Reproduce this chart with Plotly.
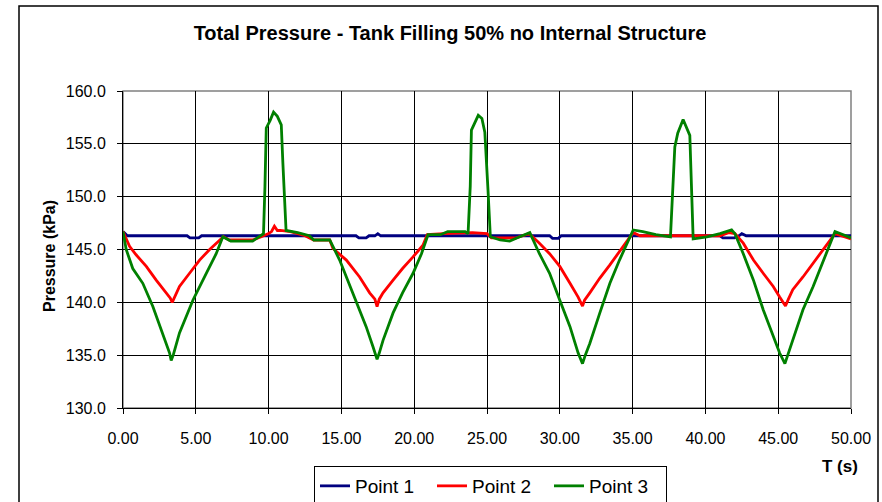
import plotly.graph_objects as go

# ---- data ----
series_names = ["Point 1", "Point 2", "Point 3"]
series_colors = ["#000080", "#FF0000", "#008000"]

point1 = [(0, 146.7), (0.3, 146.3), (4.4, 146.3), (4.6, 146.1), (5.2, 146.1), (5.4, 146.3),
          (16.0, 146.3), (16.2, 146.1), (16.7, 146.1), (16.9, 146.3), (17.3, 146.3), (17.5, 146.5),
          (17.7, 146.3), (29.3, 146.3), (29.5, 146.05), (29.9, 146.05), (30.1, 146.3), (41.0, 146.3),
          (41.2, 146.1), (42.0, 146.1), (42.3, 146.3), (42.5, 146.5), (42.8, 146.3), (50.0, 146.3)]

point2 = [(0, 146.7), (0.45, 145.3), (0.9, 144.5), (1.6, 143.4), (2.28, 142.1), (2.97, 140.9),
          (3.25, 140.4), (3.38, 140.0), (3.5, 140.4), (3.88, 141.5), (4.57, 142.75), (5.26, 144.0),
          (5.95, 145.0), (6.63, 145.9), (6.9, 146.2), (7.3, 145.9), (8.9, 145.9), (9.5, 146.2),
          (10.0, 146.5), (10.2, 146.7), (10.4, 147.2), (10.6, 146.8), (10.8, 146.8), (11.5, 146.7),
          (12.5, 146.3), (13.1, 145.9), (14.2, 145.9), (14.42, 145.1), (15.34, 144.0), (16.25, 142.4),
          (16.94, 140.9), (17.3, 140.3), (17.45, 139.6), (17.6, 140.3), (17.86, 140.9), (18.55, 142.1),
          (19.2, 143.2), (19.92, 144.3), (20.6, 145.4), (20.9, 146.4), (22.0, 146.5), (24.0, 146.6),
          (25.0, 146.5), (25.3, 146.1), (27.0, 146.1), (27.9, 146.5), (28.6, 145.6), (29.3, 144.6),
          (30.0, 143.4), (30.7, 141.8), (31.26, 140.5), (31.56, 139.65), (31.7, 140.2), (32.06, 140.9),
          (32.75, 142.3), (33.44, 143.55), (34.1, 144.8), (35.04, 146.6), (35.5, 146.3), (41.0, 146.3),
          (41.6, 146.6), (42.03, 146.5), (42.6, 145.6), (43.3, 144.0), (43.97, 142.75), (44.66, 141.5),
          (45.1, 140.5), (45.5, 139.65), (45.7, 140.3), (46.0, 141.2), (46.7, 142.4), (47.4, 143.7),
          (48.1, 145.0), (48.9, 146.5), (50.0, 146.0)]

point3 = [(0, 146.7), (0.22, 145.0), (0.67, 143.2), (1.36, 141.8), (2.05, 139.6), (2.62, 137.4),
          (2.97, 136.2), (3.2, 135.2), (3.31, 134.5), (3.45, 135.0), (3.88, 137.1), (4.8, 140.2),
          (5.72, 142.75), (6.4, 144.6), (6.86, 146.2), (7.4, 145.8), (8.9, 145.8), (9.3, 146.2),
          (9.65, 146.5), (9.75, 151.0), (9.84, 156.5), (10.1, 157.2), (10.34, 158.0), (10.6, 157.6),
          (10.87, 156.8), (10.98, 153.2), (11.2, 146.8), (12.0, 146.6), (12.8, 146.3), (13.1, 145.9),
          (14.2, 145.9), (14.88, 144.0), (15.8, 140.9), (16.7, 137.7), (17.17, 135.8), (17.45, 134.6),
          (17.6, 135.2), (17.86, 136.4), (18.55, 139.0), (19.2, 140.9), (19.92, 142.75), (20.5, 144.6),
          (20.95, 146.4), (21.8, 146.4), (22.3, 146.7), (23.5, 146.7), (23.7, 146.5), (23.85, 151.0),
          (23.93, 156.3), (24.1, 156.8), (24.4, 157.7), (24.65, 157.4), (24.85, 156.1), (25.07, 150.6),
          (25.23, 146.2), (25.9, 145.9), (26.56, 145.8), (27.25, 146.2), (27.94, 146.6), (28.6, 144.6),
          (29.3, 142.75), (30.0, 140.2), (30.7, 137.7), (31.26, 135.2), (31.56, 134.2), (31.75, 135.0),
          (32.06, 136.1), (32.75, 139.0), (33.44, 141.8), (34.1, 144.0), (34.6, 145.6), (35.04, 146.85),
          (35.7, 146.7), (36.6, 146.4), (37.6, 146.2), (37.74, 150.0), (37.9, 154.7), (38.1, 156.0),
          (38.47, 157.3), (38.93, 155.8), (39.05, 151.6), (39.16, 146.0), (40.1, 146.2), (41.0, 146.5),
          (41.8, 146.85), (42.03, 146.5), (42.6, 144.6), (43.3, 142.1), (43.97, 139.3), (44.66, 136.75),
          (45.1, 135.2), (45.46, 134.2), (45.65, 135.0), (46.0, 136.4), (46.7, 139.3), (47.4, 141.5),
          (48.1, 144.0), (48.9, 146.7), (50.0, 146.1)]

x_ticks = [0, 5, 10, 15, 20, 25, 30, 35, 40, 45, 50]
y_ticks = [130, 135, 140, 145, 150, 155, 160]

FONT = "Arial, 'Liberation Sans', sans-serif"

fig = go.Figure()
for name, color, data in zip(series_names, series_colors, [point1, point2, point3]):
    t = [d[0] for d in data]
    p = [d[1] for d in data]
    fig.add_trace(go.Scatter(x=t, y=p, mode="lines", name=name,
                             line=dict(color=color, width=2.8)))

# the chart frame continues below the visible 502 px window (as in the reference)
W, H = 882, 540
L, R, T, B = 123, 31, 91, 132
pw, ph = W - L - R, H - T - B


def px(xp):
    return (xp - L) / pw


def py(yp):
    return 1 - (yp - T) / ph


fig.update_layout(
    width=W, height=H,
    margin=dict(l=L, r=R, t=T, b=B),
    paper_bgcolor="white", plot_bgcolor="white",
    font=dict(family=FONT, color="black"),
    title=dict(text="<b>Total Pressure - Tank Filling 50% no Internal Structure</b>",
               x=px(450), xref="paper", xanchor="center",
               y=1 - 33 / H, yanchor="middle", font=dict(size=20, color="black")),
    showlegend=True,
    legend=dict(orientation="h", x=px(314), xanchor="left", y=py(466), yanchor="top",
                bordercolor="black", borderwidth=1, bgcolor="white",
                font=dict(size=19, color="black"), itemwidth=30,
                entrywidth=72, entrywidthmode="pixels",
                tracegroupgap=0),
    xaxis=dict(range=[0, 50], tickvals=x_ticks, tickformat=".2f",
               showgrid=True, gridcolor="black", gridwidth=1,
               showline=True, linecolor="black", linewidth=1,
               ticks="outside", ticklen=5, tickcolor="black",
               tickfont=dict(size=16, color="black"), ticklabelstandoff=11,
               zeroline=False, fixedrange=True),
    yaxis=dict(range=[130, 160], tickvals=y_ticks, tickformat=".1f",
               showgrid=True, gridcolor="black", gridwidth=1,
               showline=True, linecolor="black", linewidth=1,
               ticks="outside", ticklen=5, tickcolor="black",
               tickfont=dict(size=16, color="black"), ticklabelstandoff=8,
               zeroline=False, fixedrange=True),
    shapes=[
        # outer chart frame
        dict(type="rect", xref="paper", yref="paper",
             x0=px(19), x1=px(878), y0=py(535), y1=py(6),
             line=dict(color="black", width=1.5), fillcolor="rgba(0,0,0,0)", layer="below"),
        # grey plot-area border (top/right)
        dict(type="rect", xref="paper", yref="paper", x0=0, x1=1, y0=0, y1=1,
             line=dict(color="#808080", width=1.5), fillcolor="rgba(0,0,0,0)", layer="below"),
    ],
    annotations=[
        dict(text="<b>Pressure (kPa)</b>", xref="paper", yref="paper",
             x=px(49), y=py(256), textangle=-90, showarrow=False,
             xanchor="center", yanchor="middle", font=dict(size=16, color="black")),
        dict(text="<b>T (s)</b>", xref="paper", yref="paper",
             x=px(840), y=py(466), showarrow=False,
             xanchor="center", yanchor="middle", font=dict(size=17, color="black")),
    ],
)

fig.write_html(
    "out.html",
    post_script=("document.body.style.margin='0px';"
                 "document.body.style.overflow='hidden';"
                 "document.documentElement.style.overflow='hidden';"),
    config={"displayModeBar": False},
)
